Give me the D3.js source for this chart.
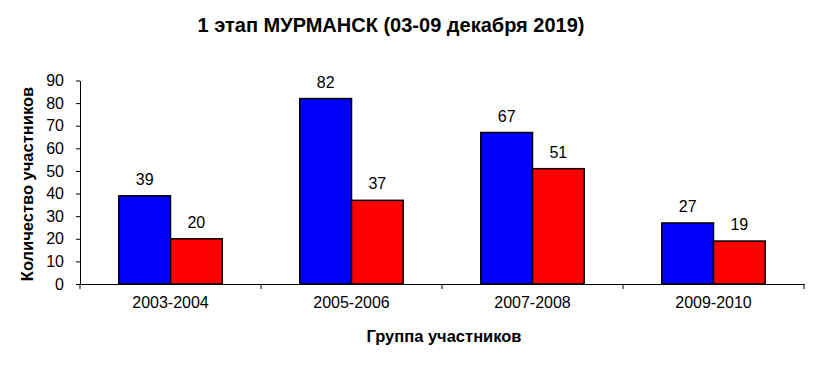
<!DOCTYPE html>
<html><head><meta charset="utf-8">
<script src="https://cdnjs.cloudflare.com/ajax/libs/d3/7.8.5/d3.min.js"></script>
<style>body{margin:0;background:#fff}svg{display:block}</style>
</head><body>
<script>
const categories = ["2003-2004","2005-2006","2007-2008","2009-2010"];
const seriesA = [39,82,67,27];
const seriesB = [20,37,51,19];
const yTicks = [0,10,20,30,40,50,60,70,80,90];
const title = "1 этап МУРМАНСК (03-09 декабря 2019)";
const xTitle = "Группа участников";
const yTitle = "Количество участников";
const colors = ["#0000FF","#FF0000"];

(function(){
const W=815,H=366;
const svg=d3.select("body").append("svg").attr("width",W).attr("height",H);
const font="Arial, 'Liberation Sans', sans-serif";
const fs=16;
const pl=80,pr=804,pt=80.5,pb=284;
const x=d3.scaleBand().domain(categories).range([pl,pr]).paddingInner(0).paddingOuter(0);
const y=d3.scaleLinear().domain([0,90]).range([pb,pt]);
const sub=d3.scaleBand().domain([0,1]).range([0,x.bandwidth()]).paddingInner(0).paddingOuter(0.75);

const ya=svg.append("g").attr("transform",`translate(${pl},0)`)
 .call(d3.axisLeft(y).tickValues(yTicks).tickSize(4).tickSizeOuter(0));
ya.select(".domain").attr("stroke","#000");
ya.selectAll("text").attr("font-family",font).attr("font-size",fs).attr("fill","#000").attr("x",-16);

const xa=svg.append("g").attr("transform",`translate(0,${pb})`)
 .call(d3.axisBottom(x).tickSize(0).tickSizeOuter(0));
xa.select(".domain").attr("stroke","#000");
xa.selectAll("text").attr("font-family",font).attr("font-size",fs).attr("fill","#000").attr("dy","0.71em").attr("y",13);
const bounds=categories.map(c=>x(c)).concat([x(categories[categories.length-1])+x.bandwidth()]);
svg.append("g").selectAll("line").data(bounds).join("line")
 .attr("x1",d=>d).attr("x2",d=>d).attr("y1",pb).attr("y2",pb+5).attr("stroke","#000");

const series=[seriesA,seriesB];
series.forEach((vals,si)=>{
  const g=svg.append("g");
  g.selectAll("rect").data(vals).join("rect")
   .attr("x",(d,i)=>x(categories[i])+sub(si))
   .attr("y",d=>y(d)).attr("width",sub.bandwidth()).attr("height",d=>y(0)-y(d))
   .attr("fill",colors[si]).attr("stroke","#000").attr("stroke-width",1.5);
  g.selectAll("text").data(vals).join("text")
   .attr("x",(d,i)=>x(categories[i])+sub(si)+sub.bandwidth()/2)
   .attr("y",d=>y(d)-11).attr("text-anchor","middle")
   .attr("font-family",font).attr("font-size",fs).text(d=>d);
});

svg.append("text").attr("x",391).attr("y",32).attr("text-anchor","middle")
 .attr("font-family",font).attr("font-size",20).attr("font-weight","bold").text(title);
svg.append("text").attr("x",444).attr("y",342).attr("text-anchor","middle")
 .attr("font-family",font).attr("font-size",16.5).attr("font-weight","bold").text(xTitle);
svg.append("text").attr("transform","translate(33,184) rotate(-90)").attr("text-anchor","middle")
 .attr("font-family",font).attr("font-size",16.5).attr("font-weight","bold").text(yTitle);
})();
</script>
</body></html>
